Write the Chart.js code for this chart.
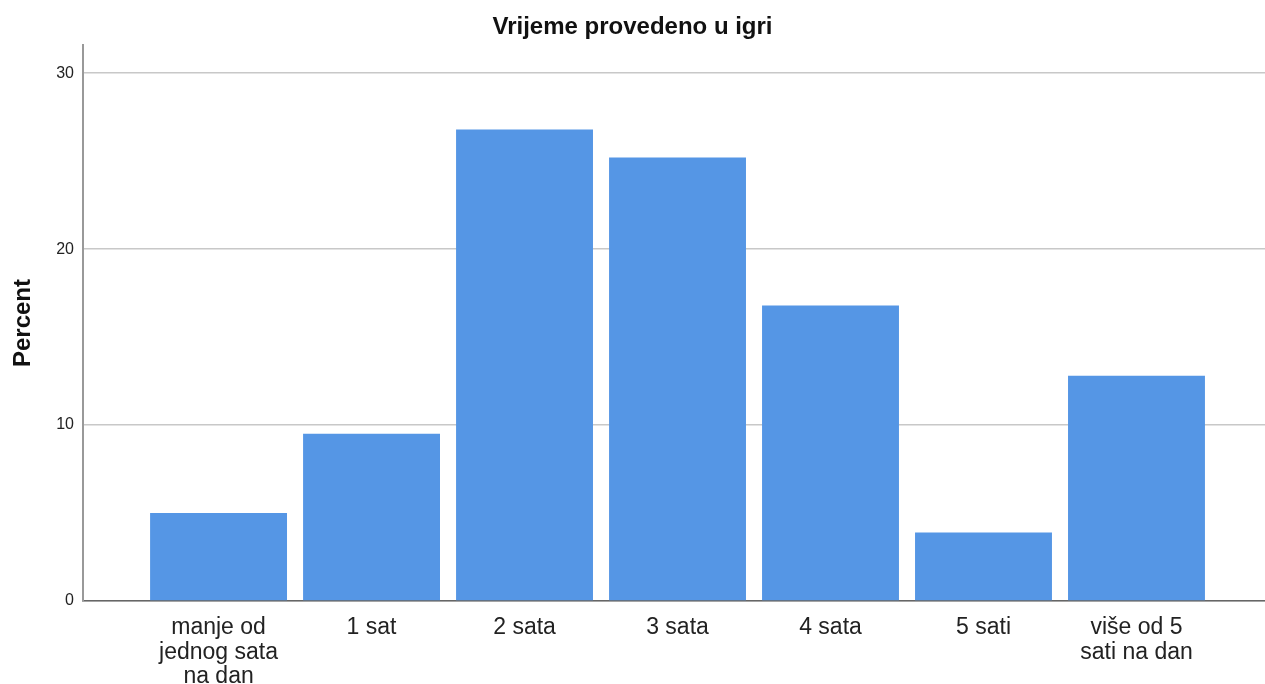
<!DOCTYPE html>
<html>
<head>
<meta charset="utf-8">
<script src="https://cdn.jsdelivr.net/npm/chart.js@4.4.4/dist/chart.umd.min.js"></script>
<style>
  body { margin: 0; background: #fff; }
  canvas { display: block; }
</style>
</head>
<body>
<canvas id="chart" width="1265" height="684"></canvas>
<script>
// category labels (split into lines the way the reference wraps them)
const categories = [
  ['manje od', 'jednog sata', 'na dan'],
  ['1 sat'],
  ['2 sata'],
  ['3 sata'],
  ['4 sata'],
  ['5 sati'],
  ['više od 5', 'sati na dan']
];
const percents = [5.0, 9.5, 26.8, 25.2, 16.8, 3.9, 12.8];
const yTicks = [0, 10, 20, 30];

const points = percents.map((v, i) => ({ x: i, y: v }));
const font = 'Arial, "Liberation Sans", sans-serif';

const chartEl = document.getElementById('chart');
const chart = new Chart(chartEl, {
  type: 'bar',
  data: {
    datasets: [{
      label: 'Percent',
      data: points,
      backgroundColor: '#5596e5',
      borderWidth: 0,
      categoryPercentage: 1,
      barPercentage: 0.895
    }]
  },
  options: {
    responsive: false,
    animation: false,
    layout: { padding: 0 },
    plugins: {
      legend: { display: false },
      tooltip: { enabled: false },
      title: {
        display: true,
        text: 'Vrijeme provedeno u igri',
        color: '#111',
        font: { family: font, size: 24, weight: 'bold' },
        padding: { top: 13, bottom: 3.2 }
      }
    },
    scales: {
      x: {
        type: 'linear',
        offset: false,
        min: -0.886,
        max: 6.84,
        afterBuildTicks: scale => {
          scale.ticks = categories.map((c, i) => ({ value: i }));
        },
        afterFit: scale => { scale.height = 83; },
        grid: { display: false, drawTicks: false },
        border: { display: true, color: '#666', width: 1.5 },
        ticks: {
          autoSkip: false,
          maxRotation: 0,
          padding: 15,
          color: '#222',
          font: { family: font, size: 23, lineHeight: 1.05 },
          callback: value => categories[value]
        }
      },
      y: {
        min: 0,
        max: 31.6,
        afterBuildTicks: scale => {
          scale.ticks = yTicks.map(v => ({ value: v }));
        },
        afterFit: scale => { scale.width = 83; },
        grid: { color: '#c8c8c8', lineWidth: 1.5, drawTicks: false },
        border: { display: true, color: '#999', width: 2 },
        title: {
          display: true,
          text: 'Percent',
          color: '#111',
          font: { family: font, size: 24, weight: 'bold' },
          padding: { top: 9, bottom: 0 }
        },
        ticks: {
          padding: 9,
          color: '#222',
          font: { family: font, size: 16 }
        }
      }
    }
  }
});
</script>
</body>
</html>
